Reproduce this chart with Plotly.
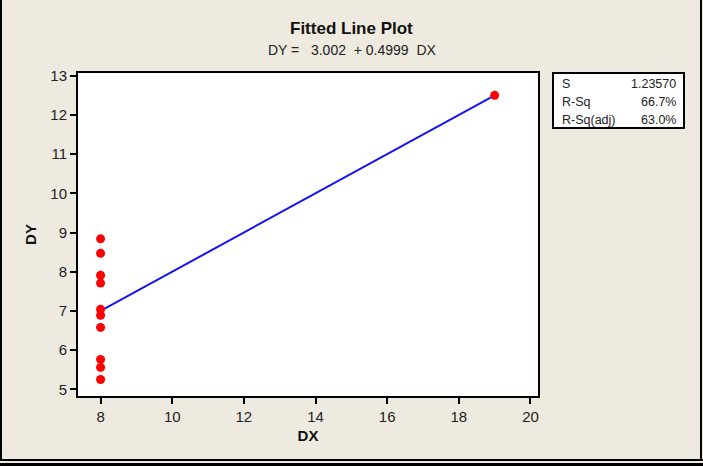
import plotly.graph_objects as go

# Anscombe-style data set: ten observations at DX = 8 and one at DX = 19
dx = [8, 8, 8, 8, 8, 8, 8, 19, 8, 8, 8]
dy = [6.58, 5.76, 7.71, 8.84, 8.47, 7.04, 5.25, 12.50, 5.56, 7.91, 6.89]

# Regression results
intercept = 3.002
slope = 0.4999
fit_x = [8, 19]
fit_y = [intercept + slope * v for v in fit_x]

stat_names = ["S", "R-Sq", "R-Sq(adj)"]
stat_values = ["1.23570", "66.7%", "63.0%"]

x_ticks = [8, 10, 12, 14, 16, 18, 20]
y_ticks = [5, 6, 7, 8, 9, 10, 11, 12, 13]

FONT = "Liberation Sans, Arial, sans-serif"
BG = "#EEEAE0"
TXT = "#222222"

W, H = 703, 466
L, R, T, B = 78, 538, 73, 396   # plot area in pixels


def px(x):
    return (x - L) / (R - L)


def py(y):
    return (B - y) / (B - T)


fig = go.Figure()

fig.add_trace(go.Scatter(
    x=fit_x, y=fit_y, mode="lines",
    line=dict(color="#1414F5", width=2),
    hoverinfo="skip", showlegend=False,
))
fig.add_trace(go.Scatter(
    x=dx, y=dy, mode="markers",
    marker=dict(color="#FF0000", size=9, line=dict(width=0)),
    showlegend=False,
))

axis_common = dict(
    showgrid=False, zeroline=False,
    showline=True, linecolor="black", linewidth=2, mirror=True,
    ticks="outside", ticklen=6, tickwidth=2, tickcolor="black",
    tickfont=dict(family=FONT, size=15, color=TXT),
)

fig.update_xaxes(
    range=[7.37, 20.21], tickvals=x_ticks,
    title=dict(text="<b>DX</b>", font=dict(family=FONT, size=15, color="#111111"), standoff=6),
    **axis_common,
)
fig.update_yaxes(
    range=[4.83, 13.07], tickvals=y_ticks,
    title=dict(text="<b>DY</b>", font=dict(family=FONT, size=15, color="#111111"), standoff=10),
    **axis_common,
)

shapes = [
    # statistics box
    dict(type="rect", xref="paper", yref="paper",
         x0=px(553), x1=px(684), y0=py(128), y1=py(73),
         line=dict(color="black", width=2), fillcolor="white", layer="below"),
    # outer frame
    dict(type="line", xref="paper", yref="paper",
         x0=px(1), x1=px(1), y0=py(-5), y1=py(460),
         line=dict(color="black", width=2)),
    dict(type="line", xref="paper", yref="paper",
         x0=px(701), x1=px(701), y0=py(-5), y1=py(460),
         line=dict(color="black", width=2)),
    dict(type="line", xref="paper", yref="paper",
         x0=px(0), x1=px(703), y0=py(460), y1=py(460),
         line=dict(color="black", width=2)),
    dict(type="line", xref="paper", yref="paper",
         x0=px(0), x1=px(703), y0=py(464.5), y1=py(464.5),
         line=dict(color="black", width=3)),
]

annotations = [
    dict(text="<b>Fitted Line Plot</b>", xref="paper", yref="paper",
         x=px(351.5), y=py(29), xanchor="center", yanchor="middle", showarrow=False,
         font=dict(family=FONT, size=17, color="#111111")),
    dict(text="DY =   3.002  + 0.4999  DX", xref="paper", yref="paper",
         x=px(352), y=py(50), xanchor="center", yanchor="middle", showarrow=False,
         font=dict(family=FONT, size=14, color=TXT)),
]

row_y = [84, 102, 120]
for name, val, yy in zip(stat_names, stat_values, row_y):
    annotations.append(dict(text=name, xref="paper", yref="paper",
                            x=px(560), y=py(yy), xanchor="left", yanchor="middle",
                            showarrow=False,
                            font=dict(family=FONT, size=12.5, color=TXT)))
    annotations.append(dict(text=val, xref="paper", yref="paper",
                            x=px(678), y=py(yy), xanchor="right", yanchor="middle",
                            showarrow=False,
                            font=dict(family=FONT, size=12.5, color=TXT)))

fig.update_layout(
    width=W, height=H,
    margin=dict(l=L, r=W - R, t=T, b=H - B, pad=0),
    paper_bgcolor=BG, plot_bgcolor="white",
    shapes=shapes, annotations=annotations,
)

fig.write_html("out.html")
